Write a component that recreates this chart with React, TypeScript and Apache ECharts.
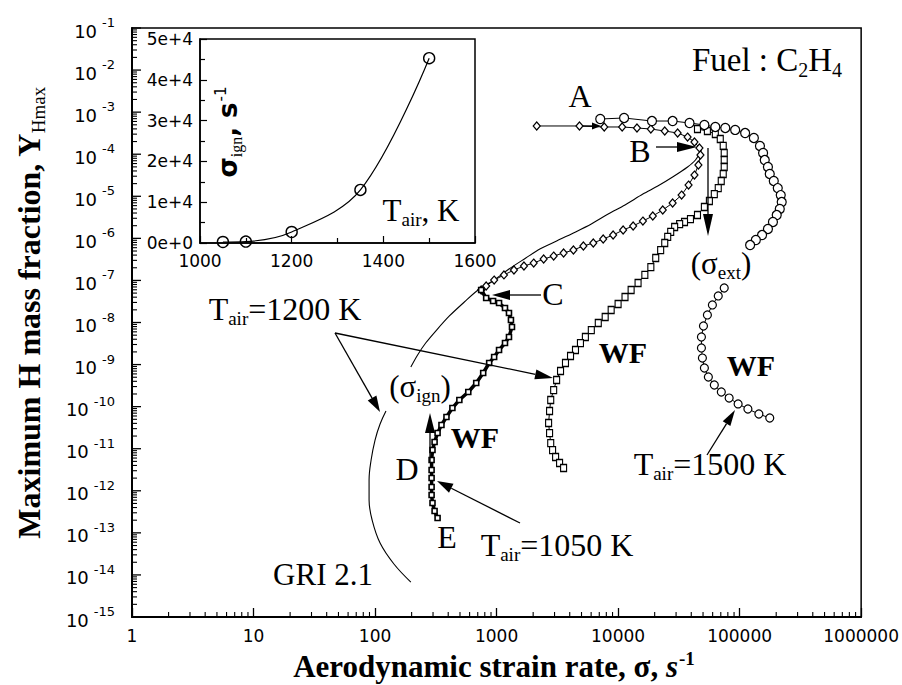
import React, { useEffect, useRef } from "react";
import * as echarts from "echarts";

const W = 902;
const H = 685;

// ---- Main panel: aerodynamic strain rate σ (s^-1) vs. maximum H mass fraction ----

// T_air = 1050 K: strong-flame branch (A → B) and middle branch (B → C), diamonds
const t1050Flame: [number, number][] = [
  [2140, 4.69e-4], [4810, 4.69e-4], [7690, 4.44e-4], [1.08e4, 4.44e-4], [1.43e4, 4.2e-4],
  [1.86e4, 3.97e-4], [2.42e4, 3.56e-4], [3.09e4, 3.19e-4], [3.73e4, 2.56e-4], [4.25e4, 1.95e-4],
  [4.67e4, 1.41e-4],
  [4.76e4, 9.57e-5], [4.58e4, 5.54e-5], [4.25e4, 3.2e-5], [3.8e4, 1.85e-5], [3.33e4, 1.07e-5],
  [2.81e4, 6.92e-6], [2.33e4, 4.72e-6], [1.93e4, 3.4e-6], [1.6e4, 2.58e-6], [1.33e4, 1.97e-6],
  [1.1e4, 1.58e-6], [9100, 1.2e-6], [7540, 9.66e-7], [6250, 7.75e-7], [5180, 6.58e-7],
  [4290, 5.28e-7], [3560, 4.49e-7], [2950, 3.8e-7], [2440, 3.23e-7], [2020, 2.59e-7],
  [1680, 2.2e-7], [1390, 1.77e-7], [1150, 1.35e-7], [955, 1.02e-7], [821, 7.36e-8], [747, 5.92e-8],
];

// T_air = 1050 K: weak-flame branch (C → D → E)
const t1050Weak: [number, number][] = [
  [747, 5.92e-8], [821, 3.82e-8], [936, 3.24e-8], [1048, 2.9e-8], [1173, 2.21e-8], [1265, 1.68e-8],
  [1313, 1.15e-8], [1339, 7.81e-9], [1265, 4.52e-9], [1173, 3.25e-9], [1048, 2.22e-9], [955, 1.51e-9],
  [869, 1.09e-9], [776, 6.3e-10], [680, 3.65e-10], [585, 2.23e-10], [494, 1.44e-10], [433, 9.27e-11],
  [387, 5.66e-11], [352, 3.66e-11], [327, 2.36e-11], [309, 1.44e-11], [297, 9.3e-12], [292, 5.38e-12],
  [292, 3.12e-12], [292, 2.01e-12], [292, 1.23e-12], [292, 7.92e-13], [297, 5.12e-13], [309, 3.3e-13],
  [327, 2.25e-13],
];

// T_air = 1200 K, squares
const t1200Flame: [number, number][] = [
  [4.5e4, 3.97e-4], [5.43e4, 3.56e-4], [6.31e4, 3.02e-4], [6.93e4, 2.3e-4], [7.33e4, 1.57e-4],
  [7.47e4, 1.07e-4], [7.47e4, 7.28e-5], [7.47e4, 4.97e-5], [7.33e4, 3.39e-5], [7.06e4, 2.31e-5],
  [6.67e4, 1.57e-5], [6.19e4, 1.13e-5], [5.64e4, 7.72e-6], [5.13e4, 5.56e-6], [4.5e4, 3.59e-6],
  [3.94e4, 2.88e-6], [3.52e4, 2.45e-6], [3.21e4, 2.19e-6], [2.92e4, 1.86e-6], [2.71e4, 1.42e-6],
  [2.56e4, 1.08e-6], [2.42e4, 7.75e-7], [2.24e4, 5.28e-7], [2.04e4, 3.41e-7], [1.86e4, 2.08e-7],
  [1.66e4, 1.35e-7], [1.46e4, 8.69e-8], [1.28e4, 5.92e-8], [1.14e4, 4.04e-8], [1.0e4, 2.75e-8],
  [8770, 1.98e-8], [7830, 1.35e-8], [6870, 9.72e-9], [6020, 6.62e-9], [5380, 4.52e-9],
  [4900, 3.25e-9], [4460, 2.22e-9], [4060, 1.6e-9], [3690, 1.09e-9], [3360, 7.03e-10],
  [3120, 4.3e-10], [2950, 2.48e-10], [2790, 1.44e-10], [2730, 7.87e-11], [2680, 4.08e-11],
  [2730, 2.36e-11], [2790, 1.36e-11], [2890, 9.3e-12], [3060, 6.35e-12], [3300, 4.57e-12],
  [3560, 3.48e-12],
];

// T_air = 1200 K computed with GRI 2.1 (thin line), above and below the (σ_ign) label
const t1200GriUpper: [number, number][] = [
  [4.85e4, 1.26e-4], [4.33e4, 7.28e-5], [3.73e4, 4.97e-5], [2.81e4, 2.87e-5], [2.12e4, 1.75e-5],
  [1.6e4, 1.13e-5], [1.14e4, 6.21e-6], [8290, 3.79e-6], [6020, 2.19e-6], [4290, 1.34e-6],
  [3120, 8.65e-7], [2270, 5.58e-7], [1740, 3.41e-7], [1265, 1.87e-7], [955, 1.02e-7],
  [720, 6.25e-8], [543, 3.07e-8], [409, 1.43e-8], [321, 6.62e-9], [261, 3.25e-9],
  [224, 1.69e-9], [197, 8.75e-10],
];
const t1200GriLower: [number, number][] = [
  [123, 7.87e-11], [110, 3.86e-11], [100, 1.61e-11], [92.8, 5.38e-12], [89.3, 1.8e-12],
  [89.3, 6.04e-13], [94.6, 2.02e-13], [110, 5.73e-14], [143, 1.82e-14], [197, 6.78e-15],
];

// T_air = 1500 K, circles
const t1500Upper: [number, number][] = [
  [7130, 6.87e-4], [1.12e4, 7.26e-4], [1.9e4, 6.15e-4], [2.81e4, 6.15e-4], [3.87e4, 5.52e-4],
  [5.13e4, 4.95e-4], [6.31e4, 4.44e-4], [7.62e4, 4.2e-4], [9.19e4, 3.77e-4], [1.11e5, 3.19e-4],
  [1.31e5, 2.43e-4], [1.47e5, 1.57e-4], [1.56e5, 1.07e-4], [1.61e5, 7.28e-5], [1.71e5, 4.97e-5],
  [1.77e5, 3.39e-5], [1.91e5, 2.31e-5], [2.06e5, 1.57e-5], [2.18e5, 1.07e-5], [2.22e5, 7.31e-6],
  [2.14e5, 4.99e-6], [2.02e5, 3.59e-6], [1.88e5, 2.45e-6], [1.71e5, 1.67e-6], [1.53e5, 1.2e-6],
  [1.36e5, 9.14e-7], [1.22e5, 6.95e-7],
];
const t1500Lower: [number, number][] = [
  [7.47e4, 6.61e-8], [6.67e4, 4.27e-8], [5.97e4, 2.61e-8], [5.43e4, 1.51e-8], [5.04e4, 8.26e-9],
  [4.85e4, 4.52e-9], [4.85e4, 2.48e-9], [4.94e4, 1.43e-9], [5.13e4, 8.28e-10], [5.53e4, 5.06e-10],
  [6.19e4, 3.27e-10], [7.07e4, 2.23e-10], [8.2e4, 1.6e-10], [9.72e4, 1.16e-10], [1.17e5, 8.79e-11],
  [1.44e5, 6.68e-11], [1.77e5, 5.37e-11],
];

// ---- Inset: ignition strain rate vs. air temperature ----
const insetTair = [1050, 1100, 1200, 1350, 1500];
const insetSigmaIgn = [250, 350, 2700, 13000, 45300];

// Axis ranges, decade exponents and log minor-tick multipliers
const xMin = 1;
const xMax = 1e6;
const yMin = 1e-15;
const yMax = 1e-1;
const xDecadeExps = [0, 1, 2, 3, 4, 5];
const yLabelExps = [-15, -14, -13, -12, -11, -10, -9, -8, -7, -6, -5, -4, -3, -2, -1];
const minorMultipliers = [2, 3, 4, 5, 6, 7, 8, 9];

const xMinorTicks: number[] = [];
xDecadeExps.forEach((e) => minorMultipliers.forEach((m) => xMinorTicks.push(m * Math.pow(10, e))));
const yMinorTicks: number[] = [];
yLabelExps.slice(0, -1).forEach((e) => minorMultipliers.forEach((m) => yMinorTicks.push(m * Math.pow(10, e))));

const SERIF = "Liberation Serif";
const SANS = "DejaVu Sans";

function serifRich(size: number, weight: string = "normal") {
  const sub = Math.round(size * 0.6);
  return {
    n: { fontFamily: SERIF, fontSize: size, fontWeight: weight, lineHeight: size + 4, verticalAlign: "middle", color: "#000" },
    s: { fontFamily: SERIF, fontSize: sub, lineHeight: sub, padding: [Math.round(size * 0.55), 0, 0, 0], verticalAlign: "top", color: "#000" },
    p: { fontFamily: SERIF, fontSize: sub, lineHeight: sub, padding: [0, 0, size + 4 - sub, 1], verticalAlign: "top", color: "#000", fontWeight: weight },
    i: { fontFamily: SERIF, fontSize: size, fontWeight: weight, fontStyle: "italic", lineHeight: size + 4, verticalAlign: "middle", color: "#000" },
  };
}

function label(text: string, x: number, y: number, size: number, weight: string = "normal", rotation = 0) {
  return {
    type: "text",
    x,
    y,
    rotation,
    silent: true,
    z: 20,
    style: {
      text,
      rich: serifRich(size, weight),
      align: "center",
      verticalAlign: "middle",
      fill: "#000",
    },
  };
}

function arrow(x1: number, y1: number, x2: number, y2: number, len = 16, hw = 5) {
  const a = Math.atan2(y2 - y1, x2 - x1);
  const bx = x2 - len * Math.cos(a);
  const by = y2 - len * Math.sin(a);
  const px = -Math.sin(a) * hw;
  const py = Math.cos(a) * hw;
  return [
    { type: "line", silent: true, z: 20, shape: { x1, y1, x2: bx, y2: by }, style: { stroke: "#000", lineWidth: 1.3 } },
    {
      type: "polygon",
      silent: true,
      z: 20,
      shape: { points: [[x2, y2], [bx + px, by + py], [bx - px, by - py]] },
      style: { fill: "#000" },
    },
  ];
}

function chainSeries(name: string, data: [number, number][], symbol: string, size: any, extra: any = {}) {
  return {
    name,
    type: "line",
    xAxisIndex: 0,
    yAxisIndex: 0,
    data,
    symbol,
    symbolSize: size,
    showAllSymbol: true,
    lineStyle: { color: "#000", width: 1 },
    itemStyle: { color: "#fff", borderColor: "#000", borderWidth: 1.2 },
    clip: false,
    z: 3,
    ...extra,
  };
}

const yTickRich = {
  b: {
    font: `18px "${SANS}"`,
    fontFamily: SANS,
    fontSize: 18,
    lineHeight: 24,
    verticalAlign: "bottom",
    fill: "#000",
    color: "#000",
  },
  s: {
    font: `13px "${SANS}"`,
    fontFamily: SANS,
    fontSize: 13,
    lineHeight: 13,
    verticalAlign: "top",
    padding: [0, 0, 0, 5],
    fill: "#000",
    color: "#000",
  },
};

function buildOption() {
  const graphics: any[] = [
    label("{n|Fuel : C}{s|2}{n|H}{s|4}", 767, 60, 33),
    label("{n|A}", 580, 96, 32),
    label("{n|B}", 640, 151, 32),
    label("{n|C}", 553, 294, 32),
    label("{n|D}", 407, 469, 32),
    label("{n|E}", 447, 537, 32),
    label("{n|WF}", 475, 437, 30, "bold"),
    label("{n|WF}", 623, 352, 30, "bold"),
    label("{n|WF}", 751, 365, 30, "bold"),
    label("{n|(σ}{s|ext}{n|)}", 721, 263, 31),
    label("{n|(σ}{s|ign}{n|)}", 420, 386, 31),
    label("{n|GRI 2.1}", 323, 574, 31),
    label("{n|T}{s|air}{n|=1200 K}", 285, 309, 32),
    label("{n|T}{s|air}{n|=1050 K}", 557, 545, 32),
    label("{n|T}{s|air}{n|=1500 K}", 710, 464, 32),
    label("{n|T}{s|air}{n|, K}", 421, 210, 31),
    // axis titles
    label("{n|Aerodynamic strain rate, σ, }{i|s}{p|-1}", 494, 666, 31, "bold"),
    label("{n|Maximum H mass fraction, Y}{s|Hmax}", 29, 313, 32, "bold", Math.PI / 2),
    // inset y title
    {
      type: "text",
      x: 228,
      y: 132,
      rotation: Math.PI / 2,
      silent: true,
      z: 20,
      style: {
        text: "{g|σ}{s|ign}{g|, s}{p|-1}",
        align: "center",
        verticalAlign: "middle",
        rich: {
          g: { fontFamily: SANS, fontSize: 26, fontWeight: "bold", lineHeight: 30, verticalAlign: "middle", color: "#000" },
          s: { fontFamily: SERIF, fontSize: 16, lineHeight: 16, padding: [15, 0, 0, 0], verticalAlign: "top", color: "#000" },
          p: { fontFamily: SANS, fontSize: 15, lineHeight: 15, padding: [0, 0, 15, 1], verticalAlign: "top", color: "#000" },
        },
      },
    },
    ...arrow(583, 126, 601, 126, 9, 3.5),
    ...arrow(656, 147, 697, 147, 20, 5),
    ...arrow(541, 295, 492, 295, 18, 5),
    ...arrow(708, 148, 708, 236, 22, 5),
    ...arrow(335, 333, 380, 412, 16, 5),
    ...arrow(335, 333, 553, 378, 18, 5),
    ...arrow(430, 463, 430, 413, 20, 5),
    ...arrow(520, 523, 437, 481, 16, 5),
    ...arrow(707, 455, 735, 410, 16, 4.5),
  ];

  const tickLabelStyle = { fontFamily: SANS, fontSize: 17, color: "#000" };

  return {
    animation: false,
    backgroundColor: "#fff",
    grid: [
      { left: 132, top: 28, width: 735, height: 589, show: true, borderColor: "#000", borderWidth: 1.5, backgroundColor: "#fff" },
      { left: 200, top: 39, width: 275, height: 204, show: true, borderColor: "#000", borderWidth: 1.5, backgroundColor: "#fff", z: 10 },
    ],
    xAxis: [
      {
        type: "log",
        logBase: 10,
        gridIndex: 0,
        min: xMin,
        max: xMax,
        splitNumber: 6,
        axisLine: { show: true, lineStyle: { color: "#000", width: 2 } },
        axisTick: { show: true, inside: true, length: 9, lineStyle: { color: "#000", width: 1.3 } },
        splitLine: { show: false },
        axisLabel: {
          ...tickLabelStyle,
          margin: 10,
          showMinLabel: true,
          showMaxLabel: true,
          formatter: (v: number) => String(Math.round(v)),
        },
      },
      {
        type: "value",
        gridIndex: 1,
        min: 1000,
        max: 1600,
        interval: 200,
        axisLine: { show: true, lineStyle: { color: "#000", width: 1.5 } },
        axisTick: { show: true, inside: true, length: 7, lineStyle: { color: "#000", width: 1.2 } },
        minorTick: { show: true, splitNumber: 2, length: 5, lineStyle: { color: "#000", width: 1.2 } },
        splitLine: { show: false },
        axisLabel: { ...tickLabelStyle, margin: 9, formatter: (v: number) => String(Math.round(v)) },
        z: 10,
      },
    ],
    yAxis: [
      {
        type: "log",
        logBase: 10,
        gridIndex: 0,
        min: yMin,
        max: yMax,
        axisLine: { show: true, lineStyle: { color: "#000", width: 2 } },
        axisTick: { show: false },
        splitLine: { show: false },
        axisLabel: { show: false },
      },
      {
        type: "value",
        gridIndex: 1,
        min: 0,
        max: 50000,
        interval: 10000,
        axisLine: { show: true, lineStyle: { color: "#000", width: 1.5 } },
        axisTick: { show: true, inside: true, length: 7, lineStyle: { color: "#000", width: 1.2 } },
        minorTick: { show: true, splitNumber: 2, length: 5, lineStyle: { color: "#000", width: 1.2 } },
        splitLine: { show: false },
        axisLabel: {
          ...tickLabelStyle,
          margin: 7,
          formatter: (v: number) => (v === 0 ? "0e+0" : `${Math.round(v / 10000)}e+4`),
        },
        z: 10,
      },
    ],
    series: [
      // log minor ticks along the bottom axis
      {
        type: "custom",
        xAxisIndex: 0,
        yAxisIndex: 0,
        silent: true,
        clip: false,
        z: 4,
        data: xMinorTicks.map((v) => [v, yMin]),
        renderItem: (_p: any, api: any) => {
          const pt = api.coord([api.value(0), api.value(1)]);
          return { type: "line", shape: { x1: pt[0], y1: pt[1], x2: pt[0], y2: pt[1] - 5 }, style: { stroke: "#000", lineWidth: 1.1 } };
        },
      },
      // log minor ticks along the left axis
      {
        type: "custom",
        xAxisIndex: 0,
        yAxisIndex: 0,
        silent: true,
        clip: false,
        z: 4,
        data: yMinorTicks.map((v) => [xMin, v]),
        renderItem: (_p: any, api: any) => {
          const pt = api.coord([api.value(0), api.value(1)]);
          return { type: "line", shape: { x1: pt[0], y1: pt[1], x2: pt[0] + 5, y2: pt[1] }, style: { stroke: "#000", lineWidth: 1.1 } };
        },
      },
      // decade ticks and 10^n labels along the left axis
      {
        type: "custom",
        xAxisIndex: 0,
        yAxisIndex: 0,
        silent: true,
        clip: false,
        z: 4,
        data: yLabelExps.map((e) => [xMin, Math.pow(10, e), e]),
        renderItem: (_p: any, api: any) => {
          const pt = api.coord([api.value(0), api.value(1)]);
          const e = api.value(2);
          return {
            type: "group",
            children: [
              { type: "line", shape: { x1: pt[0], y1: pt[1], x2: pt[0] + 9, y2: pt[1] }, style: { stroke: "#000", lineWidth: 1.3 } },
              {
                type: "text",
                x: pt[0] - 17,
                y: pt[1],
                style: {
                  text: `{b|10}{s|${e}}`,
                  rich: yTickRich,
                  align: "right",
                  verticalAlign: "middle",
                  fill: "#000",
                },
              },
            ],
          };
        },
      },
      {
        name: "GRI 2.1 (upper)",
        type: "line",
        xAxisIndex: 0,
        yAxisIndex: 0,
        data: t1200GriUpper,
        showSymbol: false,
        smooth: 0.3,
        lineStyle: { color: "#000", width: 1.1 },
        clip: false,
        z: 2,
      },
      {
        name: "GRI 2.1 (lower)",
        type: "line",
        xAxisIndex: 0,
        yAxisIndex: 0,
        data: t1200GriLower,
        showSymbol: false,
        smooth: 0.4,
        lineStyle: { color: "#000", width: 1.1 },
        clip: false,
        z: 2,
      },
      chainSeries("1050 K", t1050Flame, "diamond", [7, 8]),
      chainSeries("1050 K weak flame", t1050Weak, "rect", [5, 5], {
        lineStyle: { color: "#000", width: 3.5 },
        itemStyle: { color: "#fff", borderColor: "#000", borderWidth: 1.6 },
      }),
      chainSeries("1200 K", t1200Flame, "rect", [6, 7]),
      chainSeries("1500 K", t1500Upper, "circle", 9),
      chainSeries("1500 K weak flame", t1500Lower, "circle", 8),
      // inset
      {
        name: "σ_ign",
        type: "line",
        xAxisIndex: 1,
        yAxisIndex: 1,
        data: insetTair.map((t, i) => [t, insetSigmaIgn[i]]),
        smooth: 0.35,
        symbol: "circle",
        symbolSize: 11,
        lineStyle: { color: "#000", width: 1.2 },
        itemStyle: { color: "rgba(255,255,255,0)", borderColor: "#000", borderWidth: 1.4 },
        z: 12,
      },
    ],
    graphic: { elements: graphics },
  };
}

export default function App() {
  const ref = useRef<HTMLDivElement>(null);
  useEffect(() => {
    if (!ref.current) return;
    const chart = echarts.init(ref.current, null, { renderer: "svg" });
    chart.setOption(buildOption() as any);
    return () => chart.dispose();
  }, []);
  return (
    <div
      ref={ref}
      style={{ position: "fixed", left: 0, top: 0, width: W, height: H, background: "#fff" }}
    />
  );
}
